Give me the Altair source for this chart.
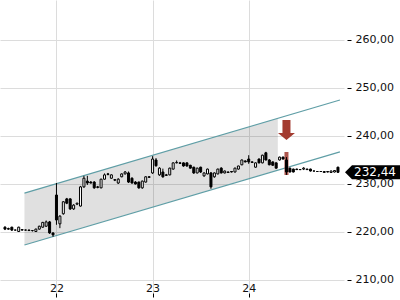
import altair as alt
import pandas as pd

# ---- candle data: half-hour candles, 28 per trading day ----
day_list = [21, 22, 23, 24]
first_slot = [13, 0, 0, 0]

opens = [
    # day 21 (slots 13-27)
    221.0, 220.7, 221.0, 220.4, 220.1, 220.5, 220.4, 220.4, 220.3, 220.1, 220.6, 221.0, 221.2, 222.1, 219.8,
    # day 22
    227.7, 221.7, 223.8, 226.9, 226.9, 224.8, 225.8, 225.4, 229.4, 230.6, 230.4, 230.4, 229.4, 229.2,
    231.0, 232.1, 231.2, 230.9, 230.2, 231.5, 232.1, 232.3, 231.2, 230.4, 230.4, 229.2, 230.4, 231.5,
    # day 23
    232.3, 235.0, 231.9, 232.5, 231.9, 231.9, 233.1, 234.4, 234.4, 234.4, 234.4, 233.9, 233.5, 232.3,
    233.5, 231.7, 232.1, 232.3, 231.5, 232.1, 233.3, 232.3, 232.5, 232.6, 232.5, 233.1, 234.0, 234.8,
    # day 24
    235.2, 234.6, 233.5, 235.2, 234.4, 236.5, 235.0, 234.6, 234.4, 235.0, 235.6, 235.0, 233.3, 233.1,
    233.1, 233.0, 233.1, 233.1, 233.1, 232.7, 232.6, 232.6, 232.4, 232.5, 232.4, 232.5, 233.5,
]
highs = [
    221.2, 220.9, 221.1, 220.5, 221.1, 220.6, 220.5, 220.5, 220.4, 220.7, 221.3, 222.1, 222.4, 222.3, 219.9,
    230.2, 223.5, 226.4, 227.1, 227.0, 225.8, 226.1, 229.6, 231.7, 231.7, 230.6, 230.6, 229.6, 231.1,
    232.2, 232.3, 232.0, 231.0, 231.2, 232.2, 232.7, 232.6, 231.4, 230.6, 230.5, 230.7, 231.6, 231.6,
    235.8, 235.4, 233.5, 233.2, 232.1, 233.4, 234.5, 234.9, 234.6, 234.5, 234.5, 234.0, 233.6, 233.4,
    233.6, 232.4, 233.2, 232.5, 232.4, 233.2, 233.5, 232.8, 232.6, 232.7, 233.4, 233.8, 235.1, 234.9,
    236.0, 234.7, 234.5, 235.3, 236.1, 236.7, 235.2, 234.7, 234.5, 235.7, 235.7, 235.6, 233.4, 233.2,
    233.2, 233.1, 233.5, 233.2, 233.2, 232.8, 232.7, 232.7, 232.7, 232.7, 232.8, 232.9, 233.6,
]
lows = [
    220.4, 220.5, 220.2, 220.3, 220.0, 220.3, 220.3, 220.3, 220.1, 220.0, 220.5, 220.9, 221.1, 219.6, 219.0,
    221.5, 220.8, 223.6, 225.8, 224.6, 224.6, 225.6, 225.3, 229.2, 229.8, 230.1, 229.0, 229.1, 229.1,
    230.9, 231.8, 231.1, 230.6, 230.0, 231.4, 232.0, 230.2, 230.1, 229.9, 229.0, 229.0, 230.3, 231.3,
    232.1, 233.6, 231.7, 231.3, 231.7, 231.8, 233.0, 234.3, 234.2, 233.6, 233.6, 233.2, 232.1, 232.2,
    232.3, 231.5, 232.0, 229.0, 231.3, 232.0, 232.2, 232.2, 232.3, 232.4, 232.4, 233.0, 233.9, 234.5,
    234.2, 234.4, 233.4, 234.3, 234.3, 234.9, 233.9, 233.8, 233.2, 234.9, 235.1, 231.9, 232.4, 232.4,
    232.9, 232.9, 232.9, 232.9, 232.6, 232.6, 232.5, 232.5, 232.3, 232.4, 232.3, 232.4, 232.3,
]
closes = [
    220.6, 220.6, 220.4, 220.4, 221.0, 220.4, 220.4, 220.3, 220.3, 220.6, 221.2, 222.0, 222.1, 219.8, 219.4,
    222.5, 223.3, 226.3, 226.0, 224.8, 225.6, 226.0, 229.4, 231.2, 230.2, 230.2, 229.2, 229.3, 231.0,
    231.9, 232.0, 231.9, 230.8, 231.0, 232.1, 232.5, 230.4, 230.2, 230.0, 229.2, 230.6, 231.5, 231.4,
    235.2, 233.8, 233.3, 231.5, 231.8, 233.3, 234.4, 234.5, 234.3, 233.75, 233.75, 233.3, 232.3, 233.3,
    232.5, 232.3, 233.1, 229.4, 232.3, 233.1, 232.3, 232.7, 232.4, 232.5, 233.3, 233.75, 235.0, 234.6,
    234.6, 234.5, 234.4, 234.4, 236.0, 235.0, 234.0, 233.9, 233.3, 235.6, 235.2, 232.5, 232.5, 232.5,
    233.0, 233.0, 233.3, 233.0, 232.7, 232.7, 232.6, 232.6, 232.6, 232.6, 232.7, 232.8, 232.44,
]
counts = [15, 28, 28, 27]

# ---- trend channel ----
chan_t = [21.667, 24.949]
chan_upper = [228.1, 247.5]
chan_lower = [217.3, 236.7]
fill_t = [21.667, 24.303]
fill_upper = [228.1, 243.7]
fill_lower = [217.3, 232.9]

# ---- signal marker ----
signal_t = 24 + 11 / 28
signal_box = [236.67, 231.875]
arrow_level = 241.25

last_price = 232.44
last_label = "232,44"

y_ticks = [210, 220, 230, 240, 250, 260]
x_ticks = [22, 23, 24]

# ---- build table ----
times = []
for d, s0, n in zip(day_list, first_slot, counts):
    for k in range(n):
        times.append(d + (s0 + k) / 28)

df = pd.DataFrame({"t": times, "open": opens, "high": highs, "low": lows, "close": closes})
df["up"] = df["close"] >= df["open"]

W, H = 344, 293
xs = alt.Scale(domain=[21.4646, 24.9394], nice=False, zero=False)
ys = alt.Scale(domain=[207.29, 268.33], nice=False, zero=False)

FONT = "DejaVu Sans"

x_axis = alt.Axis(values=x_ticks, format="d", title=None, grid=True, gridColor="#dcdcdc",
                  domain=False, tickSize=4, tickColor="#000", labelPadding=-15,
                  labelFont=FONT, labelFontSize=11, labelColor="#111", labelFlush=False)
y_axis = alt.Axis(values=y_ticks, orient="right", title=None, grid=True, gridColor="#dcdcdc",
                  domain=False, tickSize=4, tickColor="#000", offset=3, labelPadding=4,
                  labelFont=FONT, labelFontSize=11, labelColor="#111", labelFlush=False,
                  labelExpr="replace(format(datum.value, '.2f'), '.', ',')")

fill_df = pd.DataFrame({"t": fill_t, "up": fill_upper, "lo": fill_lower})
band = alt.Chart(fill_df).mark_area(color="#000", opacity=0.12).encode(
    x=alt.X("t:Q", scale=xs, axis=x_axis),
    y=alt.Y("up:Q", scale=ys, axis=y_axis),
    y2="lo:Q",
)

chan_df = pd.DataFrame({
    "t": chan_t + chan_t,
    "v": chan_upper + chan_lower,
    "line": ["upper", "upper", "lower", "lower"],
})
chan = alt.Chart(chan_df).mark_line(color="#5f9ea6", strokeWidth=1.2).encode(
    x=alt.X("t:Q", scale=xs), y=alt.Y("v:Q", scale=ys), detail="line:N"
)

sig_df = pd.DataFrame({"t": [signal_t], "a": [signal_box[0]], "b": [signal_box[1]], "arrow": [arrow_level]})
highlight = alt.Chart(sig_df).mark_bar(color="#a5453b", size=4, opacity=0.9).encode(
    x=alt.X("t:Q", scale=xs), y=alt.Y("a:Q", scale=ys), y2="b:Q"
)

wicks = alt.Chart(df).mark_rule(color="#000", strokeWidth=1).encode(
    x=alt.X("t:Q", scale=xs), y=alt.Y("low:Q", scale=ys), y2="high:Q"
)
bodies = alt.Chart(df).mark_bar(size=2, stroke="#000", strokeWidth=1).encode(
    x=alt.X("t:Q", scale=xs),
    y=alt.Y("open:Q", scale=ys),
    y2="close:Q",
    fill=alt.condition("datum.up", alt.value("#ffffff"), alt.value("#000000")),
)

arrow_path = "M-0.4,-1 L0.4,-1 L0.4,0.3 L0.85,0.3 L0,1 L-0.85,0.3 L-0.4,0.3 Z"
arrow = alt.Chart(sig_df).mark_point(shape=arrow_path, size=400, filled=True,
                                     color="#a33b30", opacity=1, strokeWidth=0).encode(
    x=alt.X("t:Q", scale=xs), y=alt.Y("arrow:Q", scale=ys)
)

lab_df = pd.DataFrame({"v": [last_price], "txt": [last_label]})
tag_path = "M-1,0 L-0.75,-0.25 L1,-0.25 L1,0.25 L-0.75,0.25 Z"
tag = alt.Chart(lab_df).mark_point(shape=tag_path, size=3136, filled=True, color="#000",
                                   opacity=1, strokeWidth=0).encode(
    x=alt.value(W + 29), y=alt.Y("v:Q", scale=ys)
)
tag_text = alt.Chart(lab_df).mark_text(color="#fff", font=FONT, fontSize=12,
                                       align="center", baseline="middle").encode(
    x=alt.value(W + 31), y=alt.Y("v:Q", scale=ys), text="txt:N"
)

chart = alt.layer(band, chan, highlight, wicks, bodies, arrow, tag, tag_text).properties(
    width=W, height=H,
    background="#ffffff",
    autosize=alt.AutoSizeParams(type="none"),
    padding={"left": 0, "top": 0, "right": 400 - W, "bottom": 300 - H},
).configure_view(stroke=None)

chart.save("out.html", embed_options={"renderer": "svg", "actions": False})
